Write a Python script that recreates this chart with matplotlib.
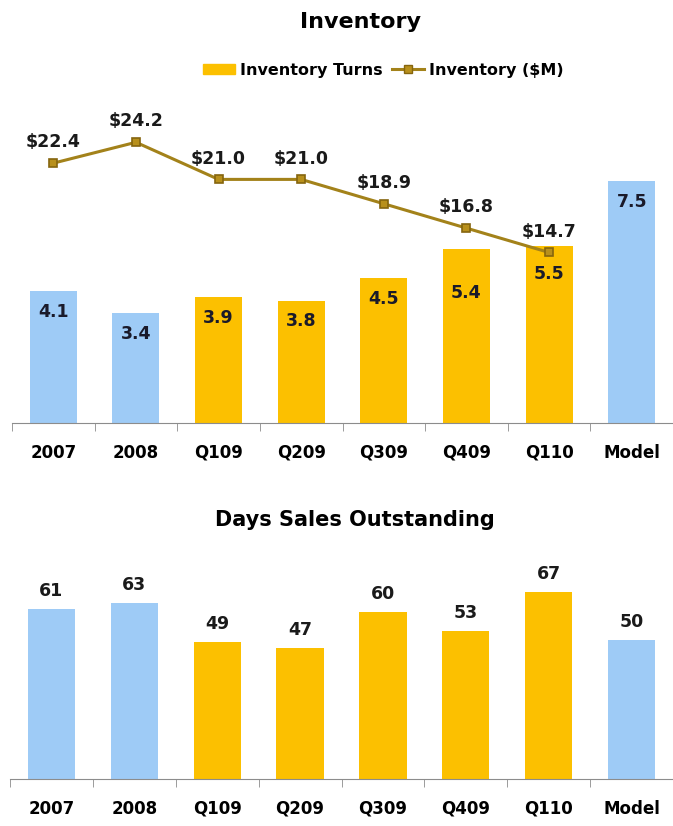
import matplotlib.pyplot as plt
from matplotlib.patches import Patch
from matplotlib.lines import Line2D

periods = ["2007", "2008", "Q109", "Q209", "Q309", "Q409", "Q110", "Model"]
turns = [4.1, 3.4, 3.9, 3.8, 4.5, 5.4, 5.5, 7.5]
inv_periods = ["2007", "2008", "Q109", "Q209", "Q309", "Q409", "Q110"]
inventory = [22.4, 24.2, 21.0, 21.0, 18.9, 16.8, 14.7]
dso = [61, 63, 49, 47, 60, 53, 67, 50]
quarterly = [False, False, True, True, True, True, True, False]

BLUE = "#9ecbf6"
GOLD = "#fcc000"
LINE = "#a3821a"
plt.rcParams["font.family"] = "DejaVu Sans"
plt.rcParams["font.weight"] = "bold"

W, H = 673, 826
fig = plt.figure(figsize=(W / 100, H / 100), dpi=100)
colors = [GOLD if q else BLUE for q in quarterly]
x = list(range(len(periods)))


def style_axis(ax):
    for s in ["top", "left", "right"]:
        ax.spines[s].set_visible(False)
    ax.spines["bottom"].set_color("#8c8c8c")
    ax.set_yticks([])
    ax.set_xlim(-0.5, len(periods) - 0.5)
    ax.set_xticks(x)
    ax.set_xticklabels(periods, fontsize=12, fontweight="bold")
    ax.set_xticks([i - 0.5 for i in range(len(periods) + 1)], minor=True)
    ax.tick_params(axis="x", which="major", length=0, pad=15)
    ax.tick_params(axis="x", which="minor", length=6, color="#8c8c8c")


# inventory turns with inventory dollars on a twin axis
ax1 = fig.add_axes([12 / W, (H - 423) / H, 661 / W, 290 / H])
ax1.bar(x, turns, width=0.57, color=colors)
ax1.set_ylim(0, 9)
style_axis(ax1)
# labels sit lower where the line crosses the bar
drop = {5: 17, 6: 5}
for i, v in enumerate(turns):
    ax1.annotate(f"{v:.1f}", (i, v), xytext=(0, -15 - drop.get(i, 0)),
                 textcoords="offset points", ha="center", va="center",
                 fontsize=12.5, fontweight="bold", color="#1a1a2a")

ax2 = ax1.twinx()
ax2.plot(range(len(inv_periods)), inventory, color=LINE, lw=2.2,
         marker="s", ms=5.5, mfc="#b8901c", mec="#85650e", mew=1.2)
ax2.set_ylim(0, 25)
ax2.set_yticks([])
for s in ax2.spines.values():
    s.set_visible(False)
for i, v in enumerate(inventory):
    ax2.annotate(f"${v:.1f}", (i, v), xytext=(0, 15),
                 textcoords="offset points", ha="center", va="center",
                 fontsize=12.5, fontweight="bold", color="#1a1a1a")

fig.text(360 / W, 1 - 22 / H, "Inventory", ha="center", va="center",
         fontsize=16, fontweight="bold")
handles = [Patch(color=GOLD),
           Line2D([], [], color=LINE, lw=2.2, marker="s", ms=5.5,
                  mfc="#b8901c", mec="#85650e")]
fig.legend(handles, ["Inventory Turns", "Inventory ($M)"], ncol=2,
           loc="center", bbox_to_anchor=(383 / W, 1 - 70 / H), frameon=False,
           prop={"size": 11.5, "weight": "bold"}, handlelength=2.0,
           handleheight=0.6, handletextpad=0.3, columnspacing=0.6)

# days sales outstanding
ax3 = fig.add_axes([10 / W, 47 / H, 663 / W, 223 / H])
ax3.bar(x, dso, width=0.57, color=colors)
ax3.set_ylim(0, 80)
style_axis(ax3)
for i, v in enumerate(dso):
    ax3.annotate(f"{v}", (i, v), xytext=(0, 13), textcoords="offset points",
                 ha="center", va="center", fontsize=12.5, fontweight="bold",
                 color="#1a1a1a")
fig.text(355 / W, 1 - 520 / H, "Days Sales Outstanding", ha="center",
         va="center", fontsize=15, fontweight="bold")

fig.savefig("out.png", dpi=100, facecolor="white")
